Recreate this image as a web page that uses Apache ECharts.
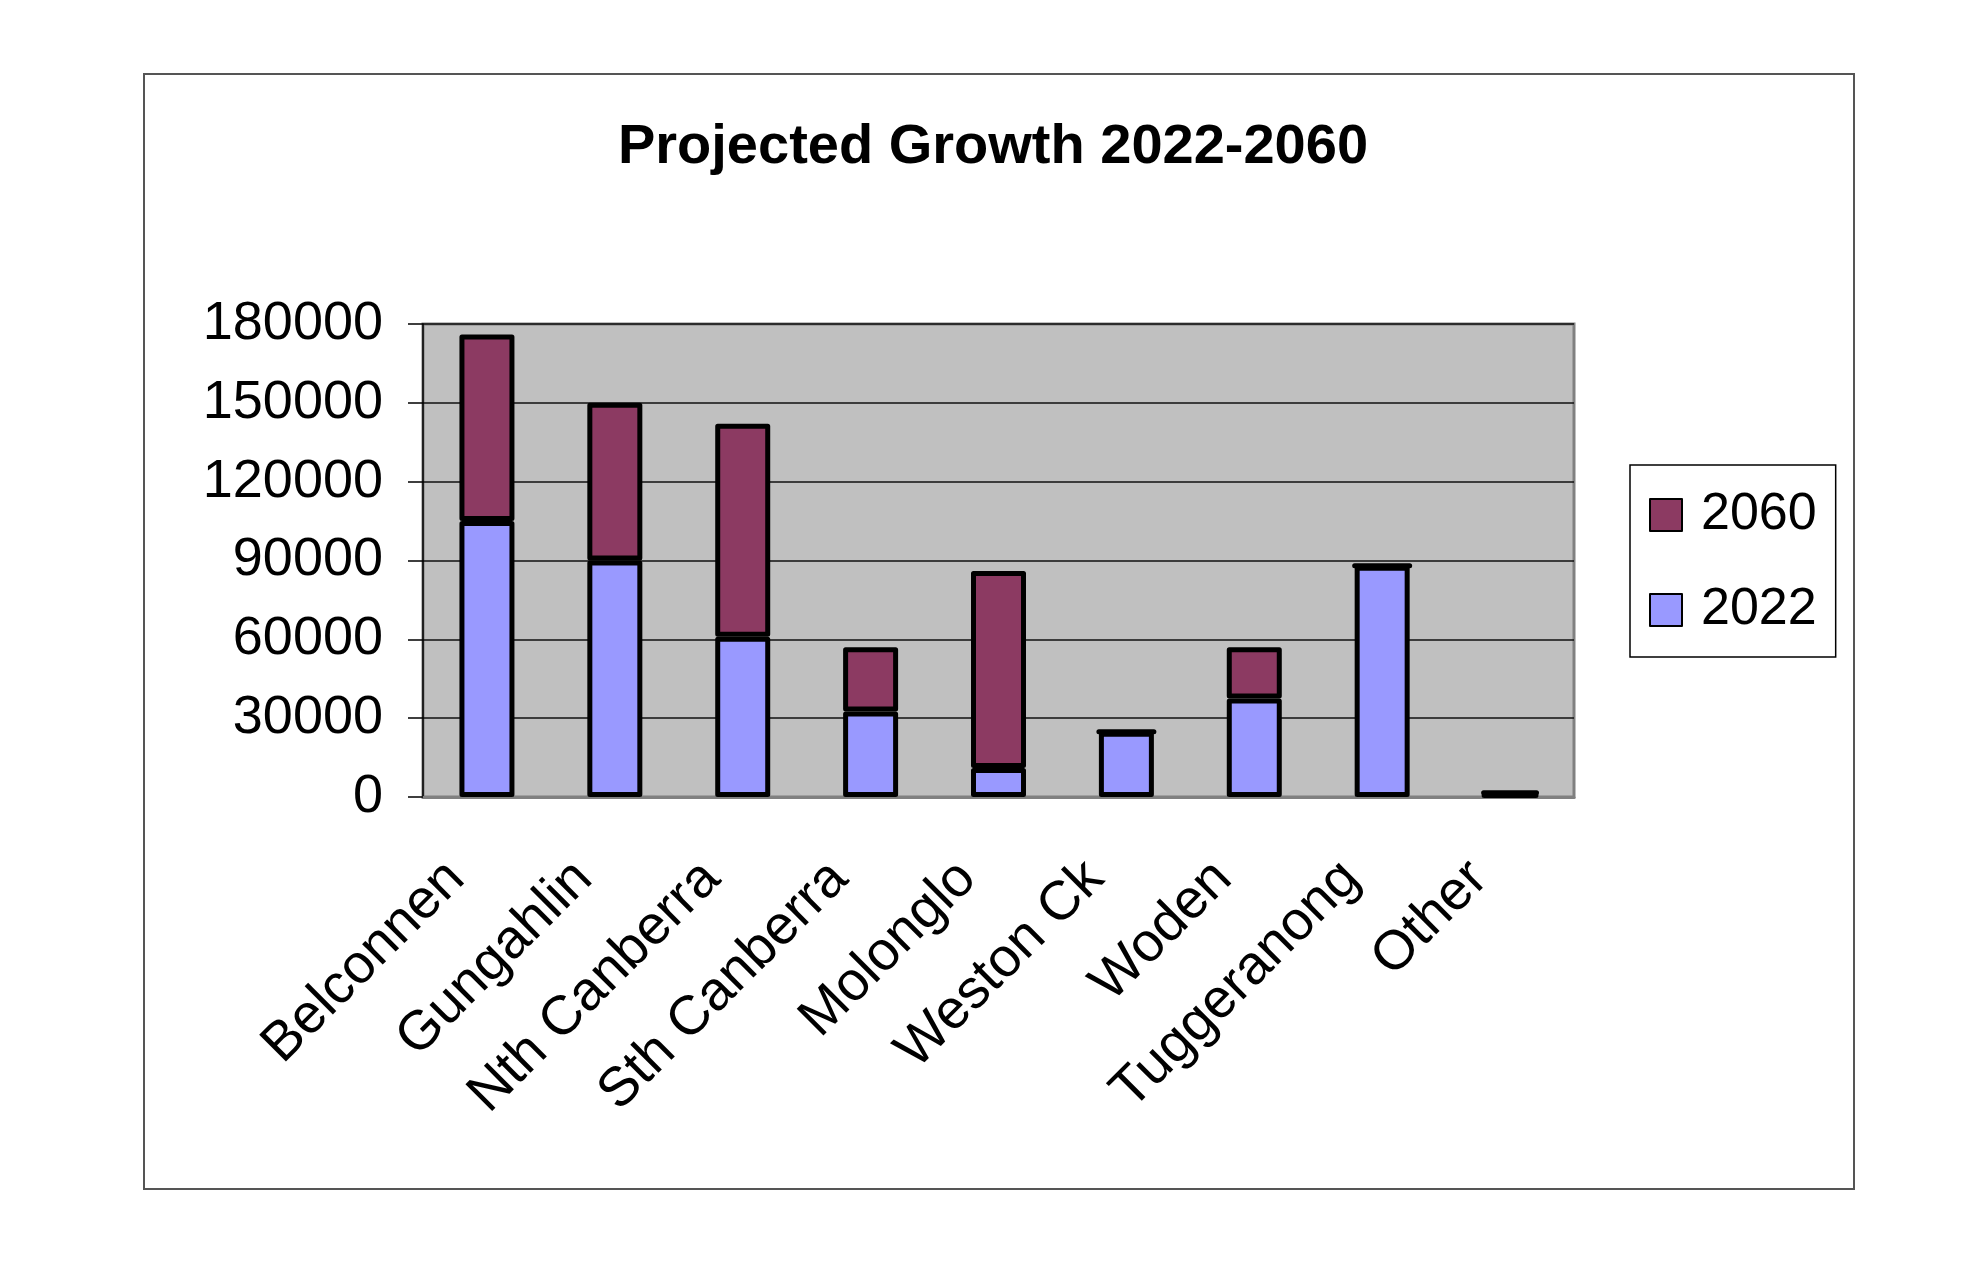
<!DOCTYPE html>
<html>
<head>
<meta charset="utf-8">
<title>Projected Growth 2022-2060</title>
<script src="https://cdn.jsdelivr.net/npm/echarts@6/dist/echarts.min.js"></script>
<style>
  html, body { margin: 0; padding: 0; background: #ffffff; }
  #chartArea { width: 1986px; height: 1282px; }
</style>
</head>
<body>
<div id="chartArea"></div>
<script>
// data
var districts = ['Belconnen', 'Gungahlin', 'Nth Canberra', 'Sth Canberra', 'Molonglo',
                 'Weston Ck', 'Woden', 'Tuggeranong', 'Other'];
var pop2022 = [105000, 90000, 61000, 32500, 11000, 24800, 37500, 88000, 1200];
// growth stacked on top of 2022
var pop2060 = [71000, 60000, 81000, 24500, 75000, 0, 19500, 0, 800];
var yTicks = [0, 30000, 60000, 90000, 120000, 150000, 180000];

var FONT = 'Liberation Sans, Arial, sans-serif';

var myChart = echarts.init(document.getElementById('chartArea'));

function barSeries(name, values, color) {
    return {
        name: name,
        type: 'bar',
        stack: 'total',
        data: values,
        barWidth: 55,
        itemStyle: {
            color: color,
            borderColor: '#000000',
            borderWidth: 5,
            borderJoin: 'round'
        }
    };
}

var option = {
    backgroundColor: '#ffffff',
    animation: false,
    title: {
        text: 'Projected Growth 2022-2060',
        left: 'center',
        top: 120,
        padding: [0, 0, 0, 34],
        textStyle: {
            fontFamily: FONT,
            fontWeight: 'bold',
            fontSize: 56,
            color: '#000000'
        }
    },
    graphic: [{
        type: 'rect',
        shape: { x: 144, y: 74, width: 1710, height: 1115 },
        style: { fill: null, stroke: '#555555', lineWidth: 2 },
        silent: true,
        z: -1
    }],
    legend: {
        data: ['2060', '2022'],
        orient: 'vertical',
        left: 1630,
        top: 465,
        padding: [21, 19, 18, 19],
        itemGap: 37,
        itemWidth: 32,
        itemHeight: 32,
        icon: 'rect',
        borderColor: '#000000',
        borderWidth: 1.5,
        backgroundColor: '#ffffff',
        textStyle: {
            fontFamily: FONT,
            fontSize: 52,
            lineHeight: 58,
            color: '#000000',
            padding: [0, 0, 0, 14]
        }
    },
    grid: {
        left: 423,
        top: 324,
        right: 412,
        bottom: 485,
        show: true,
        backgroundColor: '#c0c0c0',
        borderColor: '#808080',
        borderWidth: 3
    },
    xAxis: {
        type: 'category',
        data: districts,
        axisLine: { lineStyle: { color: '#808080', width: 3 } },
        axisTick: { length: 16, lineStyle: { color: '#000000', width: 1.5 } },
        axisLabel: {
            rotate: 45,
            interval: 0,
            margin: 42,
            padding: [0, 44, 0, 0],
            fontFamily: FONT,
            fontSize: 55,
            color: '#000000'
        }
    },
    yAxis: {
        type: 'value',
        min: yTicks[0],
        max: yTicks[yTicks.length - 1],
        interval: yTicks[1] - yTicks[0],
        axisLine: { show: true, lineStyle: { color: '#000000', width: 1.5 } },
        axisTick: { show: true, length: 15, lineStyle: { color: '#000000', width: 1.5 } },
        splitLine: { lineStyle: { color: '#111111', width: 1.5 } },
        axisLabel: {
            margin: 40,
            fontFamily: FONT,
            fontSize: 54,
            color: '#000000',
            formatter: function(value) {
                return String(value);
            }
        }
    },
    series: [
        barSeries('2022', pop2022, '#9999ff'),
        barSeries('2060', pop2060, '#8c3a62')
    ]
};

myChart.setOption(option);
</script>
</body>
</html>
